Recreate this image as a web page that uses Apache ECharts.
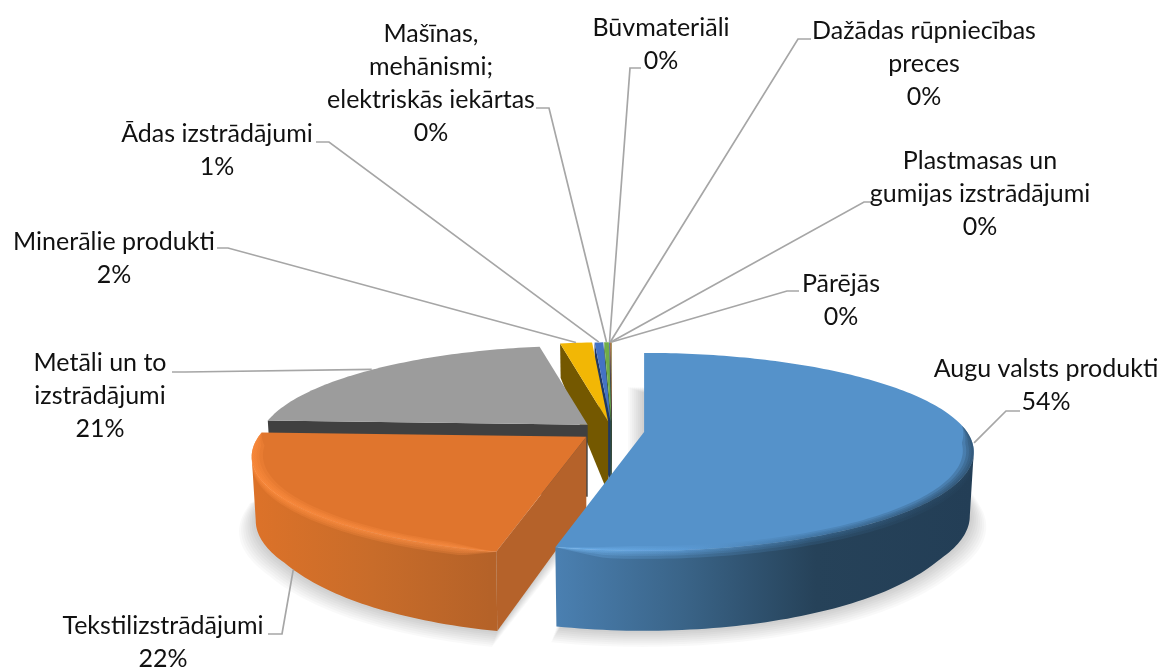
<!DOCTYPE html>
<html><head><meta charset="utf-8">
<style>html,body{margin:0;padding:0;background:#fff}#c{width:1161px;height:669px}</style>
<script src="https://cdn.jsdelivr.net/npm/echarts@6/dist/echarts.min.js"></script>
</head><body><div id="c"></div>
<script>
// ---- data ----
const categories = ['Augu valsts produkti','Tekstilizstrādājumi','Metāli un to\nizstrādājumi','Minerālie produkti','Ādas izstrādājumi','Mašīnas,\nmehānismi;\nelektriskās iekārtas','Būvmateriāli','Dažādas rūpniecības\npreces','Plastmasas un\ngumijas izstrādājumi','Pārējās'];
const values = [53.55,22.15,21.45,1.9,0.52,0.28,0.04,0.04,0.03,0.04];
// ---- styles ----
const topColors  = ['#5592CA','#E0752D','#9C9C9C','#F2B705','#4472C4','#70AD47','#264478','#9E480E','#636363','#997300'];
const faceColors = ['#3B6489','#B5622A','#404040','#745800','#1F3864','#3F6328','#1A2F55','#6E3209','#454545','#7F6000'];
const labelCenters = [[1046,385],[163,642],[100,396],[114,258],[217,150],[431,83],[661,44],[924,64],[980,194],[841,300]];
const elbows = [[[1020,411],[1006,411]],[[268,634],[282,634]],[[172,372],[185,372]],[[217,248],[228,248]],[[316,142],[329,142]],[[536,108],[549,108]],[[641,68],[630,68]],[[811,39],[798,39]],[[871,202],[864,202]],[[799,291],[787,291]]];
// ---- pie geometry ----
const C = {x:612, y:431, rx:323, ry:95, k:0.2, explode:0.1, apexDepth:72};
const rxScale = i => i===1 ? 1.015 : 1;
const depthU = [-1,-0.8,-0.57,0,1], depthV = [80,74,66,63,34];
const depth = u => { for(let j=1;j<depthU.length;j++) if(u<=depthU[j]){ const f=(u-depthU[j-1])/(depthU[j]-depthU[j-1]); return depthV[j-1]+(depthV[j]-depthV[j-1])*f; } return depthV[depthV.length-1]; };
const total = values.reduce((a,b)=>a+b,0);
const angles = []; let acc = 0;
values.forEach(v=>{ const s=acc/total*2*Math.PI; acc+=v; angles.push([s,acc/total*2*Math.PI]); });
const frontStart = Math.acos(-C.k), frontEnd = 2*Math.PI-frontStart; // where the outer wall faces the viewer
const local = (r,t)=>{ const c=r*Math.cos(t), p=1/(1+C.k*c); return [C.rx*r*Math.sin(t)*p, -C.ry*c*p, c]; };
const apexOf = i=>{ const m=(angles[i][0]+angles[i][1])/2;
  return [C.x+C.rx*C.explode*Math.sin(m), C.y-C.ry*C.explode*Math.cos(m)]; };
const topPt = (i,r,t)=>{ const a=apexOf(i), l=local(r,t); return [a[0]+l[0]*rxScale(i), a[1]+l[1]]; };
const botPt = (i,r,t)=>{ const a=apexOf(i), l=local(r,t); return [a[0]+l[0]*rxScale(i)*0.988, a[1]+l[1]+depth(Math.cos(t))]; };
const arc = (fn,i,r,s,e)=>{ const n=Math.max(2,Math.ceil((e-s)/0.02)), o=[]; for(let j=0;j<=n;j++) o.push(fn(i,r,s+(e-s)*j/n)); return o; };
const hGrad = (x1,x2,stops)=>({type:'linear',x:x1,y:0,x2:x2,y2:0,global:true,colorStops:stops.map(a=>({offset:a[0],color:a[1]}))});
const wallFill = [
  hGrad(559,973,[[0,'#4A7FB0'],[0.3,'#3A6488'],[0.62,'#264259'],[1,'#233E56']]),
  hGrad(255,490,[[0,'#DC7229'],[0.5,'#C86C2A'],[1,'#B56228']]),
];
const rimFill = [
  hGrad(559,973,[[0,'#78BBF5'],[0.3,'#5F9FDA'],[0.62,'#3A6A94'],[0.9,'#2A4A66'],[1,'#27455F']]),
  hGrad(255,490,[[0,'#FF8D3E'],[1,'#F98E45']]),
];
const rimDrop = [[8,5,3,1.5],[7,5,3,1.5]];
function renderItem(params){
  const i=params.dataIndex, [s,e]=angles[i], z=(values.length-i)*10;
  const kids=[];
  const A=apexOf(i), Ab=[A[0],A[1]+C.apexDepth];
  const tArc=arc(topPt,i,1,s,e), bArc=arc(botPt,i,1,s,e);
  // soft cast shadow, stacked translucent footprints below every slice
  if(i<2) for(let d=16;d>=2;d-=2){
    const pts=arc((j,r,t)=>{const p=botPt(j,r,t);return [p[0],p[1]+d*0.55];},i,1+d/330,Math.max(s,i===0?0:s),e);
    if(i===0) pts.push([Ab[0]-d,Ab[1]+d*0.5],[Ab[0]-d,bArc[0][1]]);
    else pts.push([Ab[0]+d*0.5,Ab[1]+d*0.5]);
    kids.push({type:'polygon',z2:1,shape:{points:pts},style:{fill:'rgba(0,0,0,0.025)'}});
  }
  // start face
  kids.push({type:'polygon',z2:z,shape:{points:[[A[0],A[1]],topPt(i,1,s),botPt(i,1,s),Ab]},style:{fill:faceColors[i]}});
  // outer wall, front-facing part only
  const ws=Math.max(s,frontStart), we=Math.min(e,frontEnd);
  if(we>ws) kids.push({type:'polygon',z2:z+1,shape:{points:arc(topPt,i,1,ws,we).concat(arc(botPt,i,1,ws,we).reverse())},style:{fill:wallFill[i]||faceColors[i]}});
  // top face
  kids.push({type:'polygon',z2:z+2,shape:{points:[[A[0],A[1]]].concat(tArc)},style:{fill:topColors[i]}});
  // bevel on the two big slices: soft bands on both sides of the outer edge
  if(i<2){
    const rs=Math.max(s,i===0?1.5:s), edge=arc(topPt,i,1,rs,e), n=edge.length-1;
    [0.032,0.022,0.014,0.007].forEach(w=>{
      const inner=edge.map((_,j)=>{const t=rs+(e-rs)*j/n, f=Math.min(1,Math.min(j,n-j)/(n*0.1));return topPt(i,1-w*f,t);});
      kids.push({type:'polygon',z2:z+3,shape:{points:edge.concat(inner.reverse())},style:{fill:rimFill[i],opacity:0.27}});
    });
    const fEdge=arc(topPt,i,1,ws,we), fn=fEdge.length-1;
    rimDrop[i].forEach(dy=>{
      const lower=fEdge.map((p,j)=>{const f=Math.min(1,Math.min(j,fn-j)/(fn*0.08));return [p[0],p[1]+dy*f];});
      kids.push({type:'polygon',z2:z+3,shape:{points:fEdge.concat(lower.reverse())},style:{fill:rimFill[i],opacity:0.27}});
    });
  }
  // leader
  const m=(s+e)/2, lead = i===1 ? botPt(i,1,m) : topPt(i,1.005,m);
  const el=elbows[i];
  kids.push({type:'polyline',z2:500,shape:{points:[el[0],el[1],lead]},style:{fill:null,stroke:'#A6A6A6',lineWidth:1.7}});
  // label
  const pct=Math.round(values[i]/total*100)+'%';
  kids.push({type:'text',z2:600,style:{text:categories[i]+'\n'+pct,x:labelCenters[i][0],y:labelCenters[i][1],align:'center',verticalAlign:'middle',
    fill:'#111',font:'25px Lato, "Open Sans", sans-serif',lineHeight:33}});
  return {type:'group',children:kids};
}
const chart=echarts.init(document.getElementById('c'),null,{renderer:'canvas'});
chart.setOption({animation:false,backgroundColor:'#fff',
  series:[{type:'custom',coordinateSystem:'none',silent:true,data:values,renderItem}]});
</script></body></html>
